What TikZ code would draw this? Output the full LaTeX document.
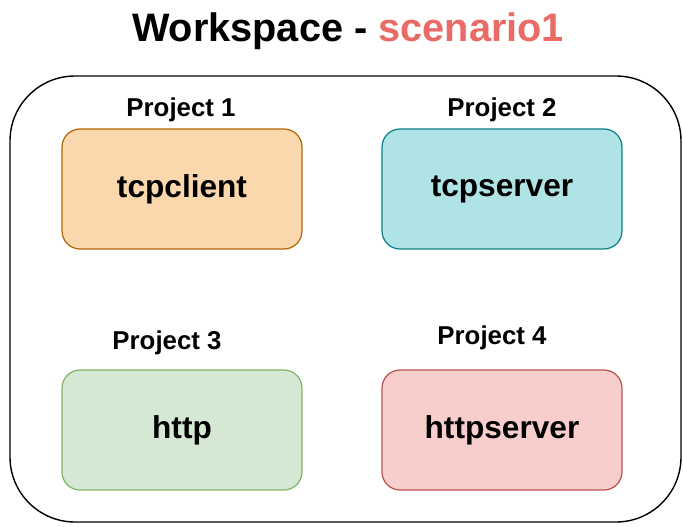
\documentclass[tikz,border=0pt]{standalone}
\usepackage{fontspec}
\setmainfont{Liberation Sans}
\usepackage{tikz}
\usepackage{xcolor}
\usetikzlibrary{positioning}

\definecolor{orangefill}{HTML}{FAD7AC}
\definecolor{orangeline}{HTML}{B46504}
\definecolor{cyanfill}{HTML}{B0E3E6}
\definecolor{cyanline}{HTML}{0E8088}
\definecolor{greenfill}{HTML}{D5E8D4}
\definecolor{greenline}{HTML}{82B366}
\definecolor{redfill}{HTML}{F8CECC}
\definecolor{redline}{HTML}{B85450}
\definecolor{scenred}{HTML}{EA6B66}

\begin{document}
\begin{tikzpicture}[x=0.02cm,y=-0.02cm,
  proj/.style={draw,rounded corners=0.36cm,line width=0.7pt,minimum width=4.8cm,
    minimum height=2.4cm,font=\fontsize{18}{20}\selectfont\bfseries},
  projlabel/.style={inner sep=0pt,font=\fontsize{14.7}{17}\selectfont\bfseries}]
\useasboundingbox (0,0) rectangle (683,527);
% title
\node (title) at (348,31) {\fontsize{22.6}{26}\selectfont\bfseries Workspace - \textcolor{scenred}{scenario1}};
% workspace frame
\draw [black,line width=0.8pt,rounded corners=1.3cm] (10,76) rectangle (681,522);
% projects
\node [proj,fill=orangefill,draw=orangeline] (tcpclient) at (182,189) {tcpclient};
\node [proj,fill=cyanfill,draw=cyanline] (tcpserver) at (502,189) {tcpserver};
\node [proj,fill=greenfill,draw=greenline] (http) at (182,430) {http};
\node [proj,fill=redfill,draw=redline] (httpserver) at (502,430) {httpserver};
\node [projlabel] (p1) at (181,110) {Project 1};
\node [projlabel] (p2) at (502,110) {Project 2};
\node [projlabel] (p3) at (167,343) {Project 3};
\node [projlabel] (p4) at (492,338) {Project 4};
\end{tikzpicture}
\end{document}
